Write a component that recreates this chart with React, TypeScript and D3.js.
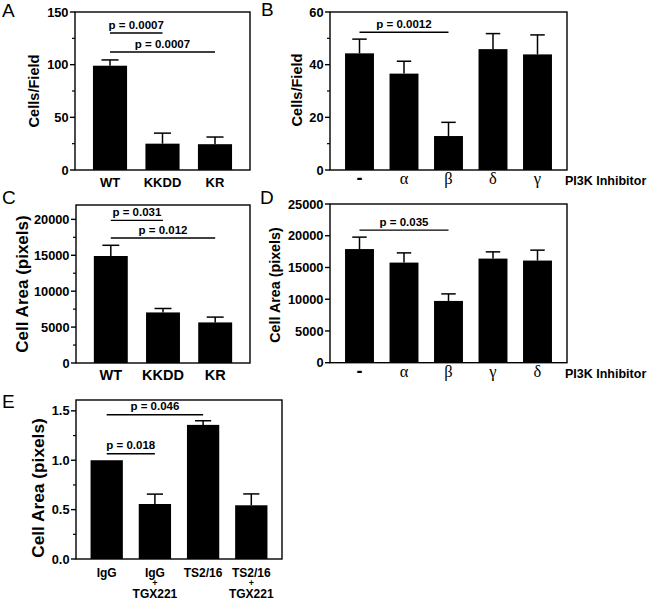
import React from "react";
import * as d3 from "d3";

// ---------- data ----------
const aCategories = ["WT", "KKDD", "KR"];
const aValues = [99, 25, 24.5];
const aErrors = [5.5, 10, 6.8];
const aTicks = [0, 50, 100, 150];
const aSig = [
  { from: 0, to: 1, level: 130, label: "p = 0.0007" },
  { from: 0, to: 2, level: 112, label: "p = 0.0007" },
];

const bCategories = ["-", "α", "β", "δ", "γ"];
const bValues = [44.3, 36.6, 12.9, 45.9, 43.9];
const bErrors = [5.4, 4.7, 5.2, 5.9, 7.4];
const bTicks = [0, 20, 40, 60];
const bSig = [{ from: 0, to: 2, level: 52.3, label: "p = 0.0012" }];

const cCategories = ["WT", "KKDD", "KR"];
const cValues = [14900, 7040, 5650];
const cErrors = [1490, 550, 740];
const cTicks = [0, 5000, 10000, 15000, 20000];
const cSig = [
  { from: 0, to: 1, level: 19860, label: "p = 0.031" },
  { from: 0, to: 2, level: 17400, label: "p = 0.012" },
];

const dCategories = ["-", "α", "β", "γ", "δ"];
const dValues = [17900, 15770, 9730, 16400, 16090];
const dErrors = [1880, 1530, 1110, 1060, 1640];
const dTicks = [0, 5000, 10000, 15000, 20000, 25000];
const dSig = [{ from: 0, to: 2, level: 20880, label: "p = 0.035" }];

const eCategories = ["IgG", "IgG|+|TGX221", "TS2/16", "TS2/16|+|TGX221"];
const eValues = [1.0, 0.557, 1.358, 0.544];
const eErrors = [0, 0.1, 0.042, 0.115];
const eTicks = [0, 0.5, 1.0, 1.5];
const eSig = [
  { from: 0, to: 2, level: 1.46, label: "p = 0.046" },
  { from: 0, to: 1, level: 1.065, label: "p = 0.018" },
];

const SANS = "'Liberation Sans', Arial, Helvetica, sans-serif";
const SERIF = "'Liberation Serif', 'Times New Roman', serif";

type Sig = { from: number; to: number; level: number; label: string };

type PanelProps = {
  letter: string;
  letterX: number;
  letterY: number;
  left: number;
  right: number;
  top: number;
  bottom: number;
  yMax: number;
  ticks: number[];
  minorStep: number | null;
  tickFormat: (v: number) => string;
  categories: string[];
  values: number[];
  errors: number[];
  sig: Sig[];
  padding: number;
  barFrac: number;
  yLabel: string;
  yLabelSize: number;
  yLabelX: number;
  yLabelY: number;
  catSize: number;
  catY: number;
  catLineGap?: number[];
  extraLabel?: string;
  extraX?: number;
};

function Panel(p: PanelProps) {
  const y = d3.scaleLinear().domain([0, p.yMax]).range([p.bottom, p.top]);
  const x = d3
    .scalePoint<string>()
    .domain(p.categories)
    .range([p.left, p.right])
    .padding(p.padding);
  const step = x.step();
  const bw = step * p.barFrac;
  const capW = bw * 0.5;
  const minors: number[] = [];
  if (p.minorStep) {
    for (let v = p.minorStep; v < p.yMax; v += p.minorStep) {
      const isMajor = p.ticks.some((t) => Math.abs(t - v) < 1e-9);
      if (!isMajor) minors.push(v);
    }
  }
  const sw = 1.4;
  return (
    <g>
      <text x={p.letterX} y={p.letterY} fontFamily={SANS} fontSize={19} fill="#000">
        {p.letter}
      </text>
      {p.categories.map((c, i) => {
        const cx = x(c)!;
        const top = y(p.values[i]);
        const et = y(p.values[i] + p.errors[i]);
        return (
          <g key={c}>
            {p.errors[i] > 0 && (
              <g>
                <line x1={cx} x2={cx} y1={top} y2={et} stroke="#000" strokeWidth={1.5} />
                <line
                  x1={cx - capW / 2}
                  x2={cx + capW / 2}
                  y1={et}
                  y2={et}
                  stroke="#000"
                  strokeWidth={1.5}
                />
              </g>
            )}
            <rect x={cx - bw / 2} y={top} width={bw} height={p.bottom - top} fill="#000" />
          </g>
        );
      })}
      <rect
        x={p.left}
        y={p.top}
        width={p.right - p.left}
        height={p.bottom - p.top}
        fill="none"
        stroke="#000"
        strokeWidth={sw}
      />
      {p.ticks.map((t) => (
        <g key={"t" + t}>
          <line x1={p.left - 5} x2={p.left} y1={y(t)} y2={y(t)} stroke="#000" strokeWidth={sw} />
          <text
            x={p.left - 6.5}
            y={y(t)}
            dy="0.36em"
            textAnchor="end"
            fontFamily={SANS}
            fontWeight="bold"
            fontSize={12.8}
            fill="#000"
          >
            {p.tickFormat(t)}
          </text>
        </g>
      ))}
      {minors.map((t) => (
        <line
          key={"m" + t}
          x1={p.left - 3}
          x2={p.left}
          y1={y(t)}
          y2={y(t)}
          stroke="#000"
          strokeWidth={1.2}
        />
      ))}
      <text
        transform={`translate(${p.yLabelX},${p.yLabelY}) rotate(-90)`}
        textAnchor="middle"
        fontFamily={SANS}
        fontWeight="bold"
        fontSize={p.yLabelSize}
        fill="#000"
      >
        {p.yLabel}
      </text>
      {p.categories.map((c) => {
        const cx = x(c)!;
        const greek = /[α-ω]/.test(c);
        const lines = c.split("|");
        if (lines.length > 1 && p.catLineGap) {
          return (
            <g key={"c" + c}>
              {lines.map((ln, j) => (
                <text
                  key={j}
                  x={cx}
                  y={p.catY + p.catLineGap![j]}
                  textAnchor="middle"
                  fontFamily={SANS}
                  fontWeight="bold"
                  fontSize={ln === "+" ? 9 : p.catSize}
                  fill="#000"
                >
                  {ln}
                </text>
              ))}
            </g>
          );
        }
        return (
          <text
            key={"c" + c}
            x={cx}
            y={p.catY}
            textAnchor="middle"
            fontFamily={greek ? SERIF : SANS}
            fontWeight={greek ? "normal" : "bold"}
            fontSize={greek ? 16.5 : c === "-" ? 18 : p.catSize}
            fill="#000"
          >
            {c}
          </text>
        );
      })}
      {p.extraLabel && (
        <text
          x={p.extraX}
          y={p.catY + 1}
          fontFamily={SANS}
          fontWeight="bold"
          fontSize={12.5}
          fill="#000"
        >
          {p.extraLabel}
        </text>
      )}
      {p.sig.map((s, k) => {
        const x1 = x(p.categories[s.from])!;
        const x2 = x(p.categories[s.to])!;
        const ly = y(s.level);
        return (
          <g key={"s" + k}>
            <line x1={x1} x2={x2} y1={ly} y2={ly} stroke="#000" strokeWidth={1.4} />
            <text
              x={(x1 + x2) / 2}
              y={ly - 4.5}
              textAnchor="middle"
              fontFamily={SANS}
              fontWeight="bold"
              fontSize={11.5}
              fill="#000"
            >
              {s.label}
            </text>
          </g>
        );
      })}
    </g>
  );
}

const fmtInt = (v: number) => d3.format("d")(v);
const fmtOne = (v: number) => d3.format(".1f")(v);

export default function App() {
  return (
    <svg
      width={650}
      height={599}
      style={{ position: "absolute", left: 0, top: 0, background: "#fff" }}
    >
      <rect width={650} height={599} fill="#fff" />
      <Panel
        letter="A" letterX={2} letterY={17}
        left={75} right={250} top={12} bottom={170}
        yMax={150} ticks={aTicks} minorStep={25} tickFormat={fmtInt}
        categories={aCategories} values={aValues} errors={aErrors} sig={aSig}
        padding={0.667} barFrac={0.65}
        yLabel="Cells/Field" yLabelSize={14.6} yLabelX={39} yLabelY={91}
        catSize={13} catY={186.5}
      />
      <Panel
        letter="B" letterX={261} letterY={15.5}
        left={330} right={567} top={12} bottom={170}
        yMax={60} ticks={bTicks} minorStep={10} tickFormat={fmtInt}
        categories={bCategories} values={bValues} errors={bErrors} sig={bSig}
        padding={0.663} barFrac={0.65}
        yLabel="Cells/Field" yLabelSize={14.6} yLabelX={302} yLabelY={90}
        catSize={13} catY={183.5}
        extraLabel="PI3K Inhibitor" extraX={565}
      />
      <Panel
        letter="C" letterX={2} letterY={204}
        left={76} right={250} top={205} bottom={363}
        yMax={22000} ticks={cTicks} minorStep={2500} tickFormat={fmtInt}
        categories={cCategories} values={cValues} errors={cErrors} sig={cSig}
        padding={0.667} barFrac={0.65}
        yLabel="Cell Area (pixels)" yLabelSize={17} yLabelX={27.5} yLabelY={284}
        catSize={14.5} catY={380}
      />
      <Panel
        letter="D" letterX={260} letterY={204}
        left={330} right={567} top={204} bottom={362.7}
        yMax={25000} ticks={dTicks} minorStep={null} tickFormat={fmtInt}
        categories={dCategories} values={dValues} errors={dErrors} sig={dSig}
        padding={0.663} barFrac={0.65}
        yLabel="Cell Area (pixels)" yLabelSize={14.3} yLabelX={280} yLabelY={285}
        catSize={13} catY={377}
        extraLabel="PI3K Inhibitor" extraX={565}
      />
      <Panel
        letter="E" letterX={2} letterY={408}
        left={76} right={282} top={400} bottom={559}
        yMax={1.61} ticks={eTicks} minorStep={0.25} tickFormat={fmtOne}
        categories={eCategories} values={eValues} errors={eErrors} sig={eSig}
        padding={0.637} barFrac={0.67}
        yLabel="Cell Area (pixels)" yLabelSize={17.3} yLabelX={44} yLabelY={488}
        catSize={12} catY={577} catLineGap={[0, 9, 20.5]}
      />
    </svg>
  );
}
